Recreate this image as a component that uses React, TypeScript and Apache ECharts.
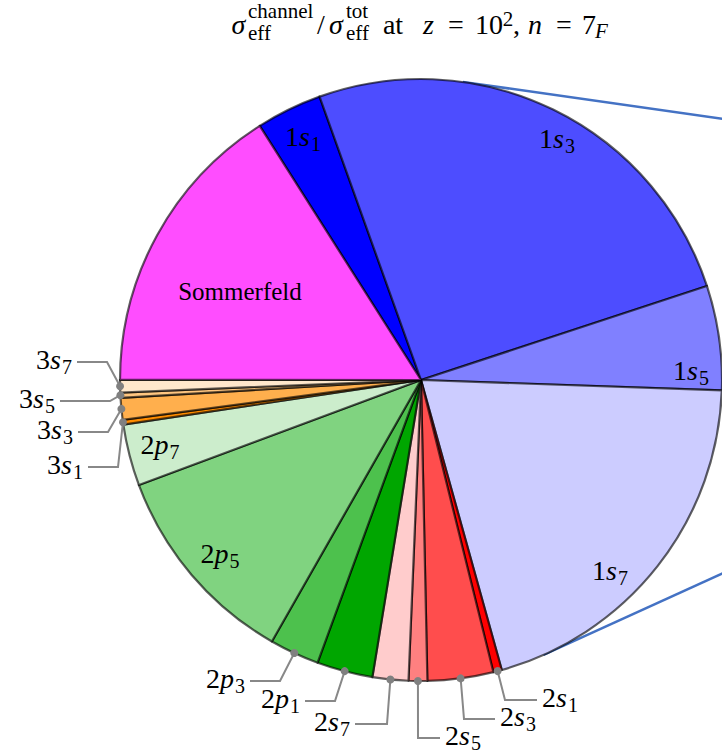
import React, { useEffect, useRef } from 'react';
import * as echarts from 'echarts';

// ---- data ----
const channels = ['1s1', '1s3', '1s5', '1s7', '2s1', '2s3', '2s5', '2s7', '2p1', '2p3', '2p5', '2p7', '3s1', '3s3', '3s5', '3s7', 'Sommerfeld'];
const fractions = [3.53, 25.42, 5.61, 20.13, 0.46, 3.53, 1.0, 1.92, 3.0, 2.67, 11.08, 3.31, 0.25, 1.17, 0.28, 0.67, 16.0];
const sliceColors = ['#0000FF', '#4D4DFF', '#8080FF', '#CCCCFF', '#FF0000', '#FF4D4D', '#FF8080', '#FFCCCC', '#00A600', '#4DC14D', '#80D380', '#CCEDCC', '#FF8C00', '#FFAF4D', '#FFC680', '#FFE8CC', '#FF4DFF'];

// ---- layout (positions of texts / leader lines) ----
const CX = 421, CY = 380, R = 301, START = 122.4;

const insideLabels: Record<string, [number, number]> = {
  '1s1': [303, 146], '1s3': [557, 148], '1s5': [691, 380], '1s7': [610, 580],
  '2p5': [220, 563], '2p7': [160, 454], 'Sommerfeld': [240, 300],
};
const outsideLabels: Record<string, { elbow: [number, number]; end: [number, number]; side: 'left' | 'right' }> = {
  '3s7': { elbow: [107, 362], end: [77, 362], side: 'left' },
  '3s5': { elbow: [110, 401], end: [60, 401], side: 'left' },
  '3s3': { elbow: [108, 432], end: [78, 432], side: 'left' },
  '3s1': { elbow: [118, 467], end: [88, 467], side: 'left' },
  '2p3': { elbow: [280, 681], end: [250, 681], side: 'left' },
  '2p1': { elbow: [335, 701], end: [305, 701], side: 'left' },
  '2s7': { elbow: [387, 724], end: [355, 724], side: 'left' },
  '2s5': { elbow: [418, 738], end: [440, 738], side: 'right' },
  '2s3': { elbow: [464, 719], end: [495, 719], side: 'right' },
  '2s1': { elbow: [505, 700], end: [537, 700], side: 'right' },
};

// title pieces: text, italic, role (m main / p sup / b sub / L left-aligned script), slot [left, right], baseline shift
const titlePieces: [string, boolean, string, number, number, number][] = [
  ['σ', true, 'm', 230, 247, 0],
  ['channel', false, 'L', 247, 315, -16],
  ['eff', false, 'L', 247, 270, 6],
  ['/', false, 'm', 315, 327, 0],
  ['σ', true, 'm', 327, 345, 0],
  ['tot', false, 'L', 345, 373, -16],
  ['eff', false, 'L', 345, 368, 6],
  ['at', false, 'm', 383, 403, 0],
  ['z', true, 'm', 420, 437, 0],
  ['=', false, 'm', 445, 467, 0],
  ['10', false, 'm', 475, 503, 0],
  ['2', false, 'p', 503, 513, -8],
  [',', false, 'm', 513, 520, 0],
  ['n', true, 'm', 527, 543, 0],
  ['=', false, 'm', 553, 575, 0],
  ['7', false, 'm', 582, 596, 0],
  ['F', true, 'b', 595, 608, 4],
];

let measureCtx: CanvasRenderingContext2D | null = null;
function ctx() {
  if (!measureCtx) measureCtx = document.createElement('canvas').getContext('2d');
  return measureCtx!;
}
function hasFont(fam: string) {
  const c = ctx();
  const probe = 'abcdefghijklmnopqrstuvwxyz0123456789';
  let same = true;
  for (const base of ['monospace', 'sans-serif']) {
    c.font = `40px ${base}`;
    const w0 = c.measureText(probe).width;
    c.font = `40px '${fam}', ${base}`;
    const w1 = c.measureText(probe).width;
    if (Math.abs(w0 - w1) > 0.5) same = false;
  }
  return !same;
}

let FAMILY = "'DejaVu Serif'";
let MAIN = 24, SCRIPT = 17, SOMM = 22, TSCRIPT = 18;

function measure(text: string, size: number, italic: boolean) {
  const c = ctx();
  c.font = `${italic ? 'italic ' : ''}${size}px ${FAMILY}`;
  return c.measureText(text).width;
}

function txt(text: string, x: number, baseline: number, size: number, italic: boolean) {
  return {
    type: 'text', x, y: baseline - 0.34 * size, z: 20, silent: true,
    style: {
      text, fill: '#000',
      font: `${italic ? 'italic ' : ''}${size}px ${FAMILY}`,
      textAlign: 'left', textVerticalAlign: 'middle', verticalAlign: 'middle',
    },
  };
}

function mathLabel(name: string, ax: number, baseline: number, align: 'left' | 'center' | 'right') {
  const n = name[0], l = name[1], sub = name.slice(2);
  const wn = measure(n, MAIN, false), wl = measure(l, MAIN, true), ws = measure(sub, SCRIPT, false);
  const W = wn + wl + 1 + ws;
  const x0 = align === 'left' ? ax : align === 'right' ? ax - W : ax - W / 2;
  return [
    txt(n, x0, baseline, MAIN, false),
    txt(l, x0 + wn, baseline, MAIN, true),
    txt(sub, x0 + wn + wl + 1, baseline + 5, SCRIPT, false),
  ];
}

function buildTitle(baseline: number) {
  return titlePieces.map(([t, it, role, l, r, dy]) => {
    const size = role === 'm' ? MAIN : TSCRIPT;
    const w = measure(t, size, it);
    const x = role === 'L' ? l + 1 : (l + r) / 2 - w / 2;
    return txt(t, x, baseline + dy, size, it);
  });
}

function midPoint(i: number): [number, number] {
  const total = fractions.reduce((a, b) => a + b, 0);
  let cum = 0;
  for (let j = 0; j < i; j++) cum += fractions[j];
  const a = ((START - ((cum + fractions[i] / 2) / total) * 360) * Math.PI) / 180;
  return [CX + R * Math.cos(a), CY - R * Math.sin(a)];
}

function polar(deg: number): [number, number] {
  const a = (deg * Math.PI) / 180;
  return [CX + R * Math.cos(a), CY - R * Math.sin(a)];
}

export default function App() {
  const ref = useRef<HTMLDivElement>(null);
  useEffect(() => {
    for (const f of ['Liberation Serif', 'Times New Roman', 'Tinos', 'Nimbus Roman', 'Noto Serif']) {
      if (hasFont(f)) {
        FAMILY = `'${f}'`;
        MAIN = 28; SCRIPT = 20; SOMM = 25; TSCRIPT = 21;
        break;
      }
    }
    const chart = echarts.init(ref.current!, null, { renderer: 'svg' });
    const graphics: any[] = [];

    const p1 = polar(82), p2 = polar(-66);
    graphics.push({ type: 'line', z: 0, silent: true, shape: { x1: p1[0], y1: p1[1], x2: 760, y2: p1[1] + (760 - p1[0]) * 0.142 }, style: { stroke: '#4472C4', lineWidth: 2.5 } });
    graphics.push({ type: 'line', z: 0, silent: true, shape: { x1: p2[0], y1: p2[1], x2: 760, y2: p2[1] - (760 - p2[0]) * 0.455 }, style: { stroke: '#4472C4', lineWidth: 2.5 } });

    graphics.push(...buildTitle(34));

    channels.forEach((name, i) => {
      const inside = insideLabels[name];
      if (inside) {
        if (name === 'Sommerfeld') {
          const w = measure(name, SOMM, false);
          graphics.push(txt(name, inside[0] - w / 2, inside[1], SOMM, false));
        } else {
          graphics.push(...mathLabel(name, inside[0], inside[1], 'center'));
        }
        return;
      }
      const out = outsideLabels[name];
      if (!out) return;
      const dot = midPoint(i);
      graphics.push({
        type: 'polyline', z: 15, silent: true,
        shape: { points: [dot, out.elbow, out.end] },
        style: { stroke: '#888888', lineWidth: 2, fill: null },
      });
      graphics.push({ type: 'circle', z: 16, silent: true, shape: { cx: dot[0], cy: dot[1], r: 4 }, style: { fill: '#808080' } });
      if (out.side === 'left') graphics.push(...mathLabel(name, out.end[0] - 5, out.end[1] + 7, 'right'));
      else graphics.push(...mathLabel(name, out.end[0] + 5, out.end[1] + 7, 'left'));
    });

    chart.setOption({
      animation: false,
      backgroundColor: '#ffffff',
      series: [
        {
          type: 'pie',
          center: [CX, CY],
          radius: R,
          startAngle: START,
          clockwise: true,
          avoidLabelOverlap: false,
          silent: true,
          label: { show: false },
          labelLine: { show: false },
          emphasis: { disabled: true },
          itemStyle: { borderColor: 'rgba(0,0,0,0.62)', borderWidth: 2.2 },
          data: channels.map((name, i) => ({ name, value: fractions[i], itemStyle: { color: sliceColors[i] } })),
          z: 5,
        },
      ],
      graphic: { elements: graphics },
    });
    return () => chart.dispose();
  }, []);
  return <div ref={ref} style={{ position: 'fixed', left: 0, top: 0, width: 722, height: 753, background: '#fff' }} />;
}
